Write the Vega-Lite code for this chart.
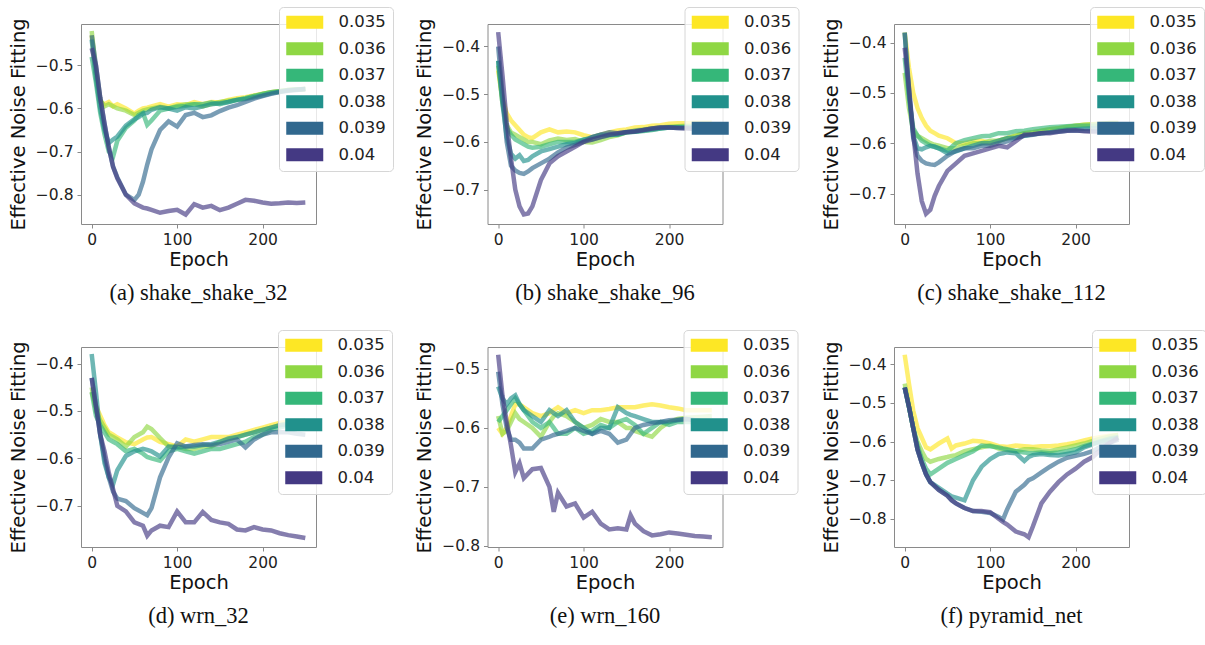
{
"$schema": "https://vega.github.io/schema/vega-lite/v6.json",
"padding": {"left": 7, "top": 6, "right": 0, "bottom": 0},
"background": "white",
"data": {"values": [
{"p":"a","e":0,"s35":-0.43,"s36":-0.42,"s37":-0.48,"s38":-0.44,"s39":-0.43,"s40":-0.46},
{"p":"a","e":5,"s35":-0.52,"s36":-0.51,"s37":-0.54,"s38":-0.53,"s39":-0.50,"s40":-0.50},
{"p":"a","e":10,"s35":-0.585,"s36":-0.58,"s37":-0.61,"s38":-0.60,"s39":-0.575,"s40":-0.575},
{"p":"a","e":15,"s35":-0.59,"s36":-0.595,"s37":-0.66,"s38":-0.65,"s39":-0.635,"s40":-0.635},
{"p":"a","e":20,"s35":-0.585,"s36":-0.59,"s37":-0.70,"s38":-0.68,"s39":-0.69,"s40":-0.69},
{"p":"a","e":25,"s35":-0.595,"s36":-0.595,"s37":-0.712,"s38":-0.672,"s39":-0.735,"s40":-0.735},
{"p":"a","e":30,"s35":-0.59,"s36":-0.60,"s37":-0.675,"s38":-0.665,"s39":-0.76,"s40":-0.762},
{"p":"a","e":40,"s35":-0.60,"s36":-0.605,"s37":-0.645,"s38":-0.64,"s39":-0.80,"s40":-0.80},
{"p":"a","e":50,"s35":-0.612,"s36":-0.615,"s37":-0.628,"s38":-0.625,"s39":-0.812,"s40":-0.82},
{"p":"a","e":55,"s35":-0.605,"s36":-0.61,"s37":-0.615,"s38":-0.62,"s39":-0.80,"s40":-0.825},
{"p":"a","e":60,"s35":-0.60,"s36":-0.605,"s37":-0.61,"s38":-0.612,"s39":-0.77,"s40":-0.83},
{"p":"a","e":65,"s35":-0.598,"s36":-0.602,"s37":-0.638,"s38":-0.61,"s39":-0.73,"s40":-0.832},
{"p":"a","e":70,"s35":-0.595,"s36":-0.60,"s37":-0.628,"s38":-0.603,"s39":-0.695,"s40":-0.835},
{"p":"a","e":80,"s35":-0.59,"s36":-0.596,"s37":-0.605,"s38":-0.597,"s39":-0.65,"s40":-0.842},
{"p":"a","e":90,"s35":-0.596,"s36":-0.60,"s37":-0.60,"s38":-0.60,"s39":-0.63,"s40":-0.838},
{"p":"a","e":100,"s35":-0.59,"s36":-0.594,"s37":-0.596,"s38":-0.605,"s39":-0.642,"s40":-0.835},
{"p":"a","e":110,"s35":-0.592,"s36":-0.59,"s37":-0.594,"s38":-0.597,"s39":-0.615,"s40":-0.846},
{"p":"a","e":120,"s35":-0.585,"s36":-0.59,"s37":-0.59,"s38":-0.60,"s39":-0.61,"s40":-0.822},
{"p":"a","e":130,"s35":-0.59,"s36":-0.595,"s37":-0.59,"s38":-0.595,"s39":-0.62,"s40":-0.83},
{"p":"a","e":140,"s35":-0.585,"s36":-0.59,"s37":-0.586,"s38":-0.59,"s39":-0.616,"s40":-0.826},
{"p":"a","e":150,"s35":-0.586,"s36":-0.585,"s37":-0.59,"s38":-0.588,"s39":-0.606,"s40":-0.836},
{"p":"a","e":160,"s35":-0.58,"s36":-0.582,"s37":-0.585,"s38":-0.585,"s39":-0.598,"s40":-0.83},
{"p":"a","e":170,"s35":-0.576,"s36":-0.58,"s37":-0.58,"s38":-0.58,"s39":-0.592,"s40":-0.821},
{"p":"a","e":180,"s35":-0.574,"s36":-0.576,"s37":-0.576,"s38":-0.578,"s39":-0.585,"s40":-0.812},
{"p":"a","e":190,"s35":-0.57,"s36":-0.571,"s37":-0.571,"s38":-0.574,"s39":-0.577,"s40":-0.814},
{"p":"a","e":200,"s35":-0.566,"s36":-0.566,"s37":-0.566,"s38":-0.57,"s39":-0.571,"s40":-0.818},
{"p":"a","e":210,"s35":-0.562,"s36":-0.562,"s37":-0.562,"s38":-0.565,"s39":-0.566,"s40":-0.821},
{"p":"a","e":220,"s35":-0.56,"s36":-0.56,"s37":-0.56,"s38":-0.561,"s39":-0.562,"s40":-0.82},
{"p":"a","e":230,"s35":-0.557,"s36":-0.557,"s37":-0.557,"s38":-0.558,"s39":-0.559,"s40":-0.818},
{"p":"a","e":240,"s35":-0.556,"s36":-0.556,"s37":-0.556,"s38":-0.556,"s39":-0.557,"s40":-0.819},
{"p":"a","e":250,"s35":-0.555,"s36":-0.555,"s37":-0.555,"s38":-0.555,"s39":-0.555,"s40":-0.818},

{"p":"b","e":0,"s35":-0.45,"s36":-0.44,"s37":-0.43,"s38":-0.43,"s39":-0.40,"s40":-0.37},
{"p":"b","e":5,"s35":-0.51,"s36":-0.52,"s37":-0.51,"s38":-0.52,"s39":-0.50,"s40":-0.46},
{"p":"b","e":10,"s35":-0.54,"s36":-0.565,"s37":-0.57,"s38":-0.59,"s39":-0.60,"s40":-0.56},
{"p":"b","e":15,"s35":-0.555,"s36":-0.58,"s37":-0.585,"s38":-0.625,"s39":-0.65,"s40":-0.635},
{"p":"b","e":20,"s35":-0.565,"s36":-0.585,"s37":-0.595,"s38":-0.635,"s39":-0.66,"s40":-0.70},
{"p":"b","e":25,"s35":-0.575,"s36":-0.59,"s37":-0.60,"s38":-0.628,"s39":-0.665,"s40":-0.735},
{"p":"b","e":30,"s35":-0.585,"s36":-0.595,"s37":-0.605,"s38":-0.64,"s39":-0.667,"s40":-0.752},
{"p":"b","e":35,"s35":-0.59,"s36":-0.60,"s37":-0.61,"s38":-0.638,"s39":-0.662,"s40":-0.75},
{"p":"b","e":40,"s35":-0.592,"s36":-0.60,"s37":-0.612,"s38":-0.63,"s39":-0.655,"s40":-0.735},
{"p":"b","e":50,"s35":-0.58,"s36":-0.605,"s37":-0.61,"s38":-0.62,"s39":-0.645,"s40":-0.68},
{"p":"b","e":60,"s35":-0.574,"s36":-0.597,"s37":-0.605,"s38":-0.615,"s39":-0.635,"s40":-0.645},
{"p":"b","e":70,"s35":-0.58,"s36":-0.593,"s37":-0.60,"s38":-0.61,"s39":-0.622,"s40":-0.63},
{"p":"b","e":80,"s35":-0.578,"s36":-0.596,"s37":-0.60,"s38":-0.605,"s39":-0.612,"s40":-0.62},
{"p":"b","e":90,"s35":-0.58,"s36":-0.594,"s37":-0.60,"s38":-0.602,"s39":-0.606,"s40":-0.61},
{"p":"b","e":100,"s35":-0.586,"s36":-0.60,"s37":-0.595,"s38":-0.596,"s39":-0.60,"s40":-0.60},
{"p":"b","e":110,"s35":-0.59,"s36":-0.601,"s37":-0.595,"s38":-0.59,"s39":-0.59,"s40":-0.595},
{"p":"b","e":120,"s35":-0.585,"s36":-0.596,"s37":-0.59,"s38":-0.585,"s39":-0.585,"s40":-0.59},
{"p":"b","e":130,"s35":-0.58,"s36":-0.59,"s37":-0.586,"s38":-0.585,"s39":-0.58,"s40":-0.585},
{"p":"b","e":140,"s35":-0.576,"s36":-0.586,"s37":-0.584,"s38":-0.585,"s39":-0.582,"s40":-0.582},
{"p":"b","e":150,"s35":-0.574,"s36":-0.58,"s37":-0.58,"s38":-0.58,"s39":-0.579,"s40":-0.58},
{"p":"b","e":160,"s35":-0.57,"s36":-0.576,"s37":-0.579,"s38":-0.579,"s39":-0.577,"s40":-0.578},
{"p":"b","e":170,"s35":-0.569,"s36":-0.574,"s37":-0.577,"s38":-0.576,"s39":-0.575,"s40":-0.575},
{"p":"b","e":180,"s35":-0.566,"s36":-0.572,"s37":-0.575,"s38":-0.574,"s39":-0.572,"s40":-0.572},
{"p":"b","e":190,"s35":-0.565,"s36":-0.57,"s37":-0.572,"s38":-0.572,"s39":-0.57,"s40":-0.57},
{"p":"b","e":200,"s35":-0.562,"s36":-0.568,"s37":-0.57,"s38":-0.57,"s39":-0.57,"s40":-0.57},
{"p":"b","e":210,"s35":-0.561,"s36":-0.567,"s37":-0.569,"s38":-0.57,"s39":-0.571,"s40":-0.571},
{"p":"b","e":220,"s35":-0.561,"s36":-0.566,"s37":-0.568,"s38":-0.57,"s39":-0.571,"s40":-0.572},
{"p":"b","e":230,"s35":-0.56,"s36":-0.566,"s37":-0.568,"s38":-0.57,"s39":-0.572,"s40":-0.573},
{"p":"b","e":240,"s35":-0.56,"s36":-0.565,"s37":-0.568,"s38":-0.57,"s39":-0.572,"s40":-0.572},
{"p":"b","e":250,"s35":-0.56,"s36":-0.565,"s37":-0.568,"s38":-0.57,"s39":-0.572,"s40":-0.572},

{"p":"c","e":0,"s35":-0.38,"s36":-0.46,"s37":-0.43,"s38":-0.38,"s39":-0.38,"s40":-0.41},
{"p":"c","e":5,"s35":-0.45,"s36":-0.53,"s37":-0.51,"s38":-0.50,"s39":-0.49,"s40":-0.49},
{"p":"c","e":10,"s35":-0.50,"s36":-0.575,"s37":-0.57,"s38":-0.585,"s39":-0.59,"s40":-0.58},
{"p":"c","e":15,"s35":-0.53,"s36":-0.585,"s37":-0.585,"s38":-0.61,"s39":-0.625,"s40":-0.66},
{"p":"c","e":20,"s35":-0.55,"s36":-0.59,"s37":-0.595,"s38":-0.612,"s39":-0.635,"s40":-0.715},
{"p":"c","e":25,"s35":-0.565,"s36":-0.595,"s37":-0.60,"s38":-0.608,"s39":-0.64,"s40":-0.74},
{"p":"c","e":30,"s35":-0.575,"s36":-0.60,"s37":-0.605,"s38":-0.605,"s39":-0.642,"s40":-0.732},
{"p":"c","e":35,"s35":-0.58,"s36":-0.603,"s37":-0.607,"s38":-0.607,"s39":-0.643,"s40":-0.705},
{"p":"c","e":40,"s35":-0.585,"s36":-0.605,"s37":-0.61,"s38":-0.61,"s39":-0.638,"s40":-0.685},
{"p":"c","e":50,"s35":-0.59,"s36":-0.61,"s37":-0.615,"s38":-0.62,"s39":-0.625,"s40":-0.655},
{"p":"c","e":60,"s35":-0.60,"s36":-0.61,"s37":-0.60,"s38":-0.616,"s39":-0.615,"s40":-0.64},
{"p":"c","e":70,"s35":-0.60,"s36":-0.605,"s37":-0.594,"s38":-0.61,"s39":-0.61,"s40":-0.625},
{"p":"c","e":80,"s35":-0.596,"s36":-0.60,"s37":-0.59,"s38":-0.605,"s39":-0.61,"s40":-0.62},
{"p":"c","e":90,"s35":-0.595,"s36":-0.60,"s37":-0.586,"s38":-0.60,"s39":-0.605,"s40":-0.615},
{"p":"c","e":100,"s35":-0.60,"s36":-0.595,"s37":-0.585,"s38":-0.60,"s39":-0.605,"s40":-0.61},
{"p":"c","e":110,"s35":-0.595,"s36":-0.595,"s37":-0.58,"s38":-0.595,"s39":-0.60,"s40":-0.605},
{"p":"c","e":120,"s35":-0.59,"s36":-0.59,"s37":-0.58,"s38":-0.59,"s39":-0.596,"s40":-0.608},
{"p":"c","e":130,"s35":-0.585,"s36":-0.585,"s37":-0.576,"s38":-0.589,"s39":-0.59,"s40":-0.596},
{"p":"c","e":140,"s35":-0.58,"s36":-0.58,"s37":-0.575,"s38":-0.585,"s39":-0.585,"s40":-0.583},
{"p":"c","e":150,"s35":-0.578,"s36":-0.578,"s37":-0.572,"s38":-0.582,"s39":-0.583,"s40":-0.582},
{"p":"c","e":160,"s35":-0.575,"s36":-0.575,"s37":-0.57,"s38":-0.58,"s39":-0.58,"s40":-0.58},
{"p":"c","e":170,"s35":-0.572,"s36":-0.572,"s37":-0.568,"s38":-0.578,"s39":-0.578,"s40":-0.58},
{"p":"c","e":180,"s35":-0.57,"s36":-0.57,"s37":-0.567,"s38":-0.575,"s39":-0.577,"s40":-0.577},
{"p":"c","e":190,"s35":-0.568,"s36":-0.567,"s37":-0.566,"s38":-0.573,"s39":-0.575,"s40":-0.575},
{"p":"c","e":200,"s35":-0.565,"s36":-0.565,"s37":-0.565,"s38":-0.572,"s39":-0.575,"s40":-0.574},
{"p":"c","e":210,"s35":-0.563,"s36":-0.563,"s37":-0.565,"s38":-0.571,"s39":-0.575,"s40":-0.576},
{"p":"c","e":220,"s35":-0.562,"s36":-0.562,"s37":-0.565,"s38":-0.57,"s39":-0.575,"s40":-0.577},
{"p":"c","e":230,"s35":-0.561,"s36":-0.561,"s37":-0.565,"s38":-0.57,"s39":-0.575,"s40":-0.578},
{"p":"c","e":240,"s35":-0.56,"s36":-0.56,"s37":-0.565,"s38":-0.57,"s39":-0.575,"s40":-0.578},
{"p":"c","e":250,"s35":-0.56,"s36":-0.56,"s37":-0.565,"s38":-0.57,"s39":-0.575,"s40":-0.578},

{"p":"d","e":0,"s35":-0.46,"s36":-0.45,"s37":-0.46,"s38":-0.38,"s39":-0.43,"s40":-0.43},
{"p":"d","e":5,"s35":-0.49,"s36":-0.50,"s37":-0.51,"s38":-0.46,"s39":-0.49,"s40":-0.49},
{"p":"d","e":10,"s35":-0.51,"s36":-0.52,"s37":-0.53,"s38":-0.55,"s39":-0.55,"s40":-0.55},
{"p":"d","e":15,"s35":-0.53,"s36":-0.535,"s37":-0.545,"s38":-0.61,"s39":-0.60,"s40":-0.585},
{"p":"d","e":20,"s35":-0.545,"s36":-0.55,"s37":-0.56,"s38":-0.64,"s39":-0.64,"s40":-0.63},
{"p":"d","e":25,"s35":-0.55,"s36":-0.555,"s37":-0.565,"s38":-0.655,"s39":-0.67,"s40":-0.665},
{"p":"d","e":30,"s35":-0.556,"s36":-0.56,"s37":-0.57,"s38":-0.625,"s39":-0.685,"s40":-0.70},
{"p":"d","e":40,"s35":-0.566,"s36":-0.575,"s37":-0.585,"s38":-0.595,"s39":-0.69,"s40":-0.712},
{"p":"d","e":50,"s35":-0.57,"s36":-0.555,"s37":-0.58,"s38":-0.585,"s39":-0.705,"s40":-0.735},
{"p":"d","e":60,"s35":-0.56,"s36":-0.545,"s37":-0.59,"s38":-0.58,"s39":-0.715,"s40":-0.742},
{"p":"d","e":65,"s35":-0.556,"s36":-0.533,"s37":-0.597,"s38":-0.582,"s39":-0.72,"s40":-0.763},
{"p":"d","e":70,"s35":-0.555,"s36":-0.538,"s37":-0.60,"s38":-0.585,"s39":-0.705,"s40":-0.752},
{"p":"d","e":80,"s35":-0.565,"s36":-0.557,"s37":-0.605,"s38":-0.596,"s39":-0.64,"s40":-0.742},
{"p":"d","e":90,"s35":-0.57,"s36":-0.575,"s37":-0.585,"s38":-0.575,"s39":-0.598,"s40":-0.745},
{"p":"d","e":100,"s35":-0.575,"s36":-0.575,"s37":-0.58,"s38":-0.577,"s39":-0.568,"s40":-0.712},
{"p":"d","e":110,"s35":-0.56,"s36":-0.58,"s37":-0.585,"s38":-0.575,"s39":-0.575,"s40":-0.735},
{"p":"d","e":120,"s35":-0.565,"s36":-0.58,"s37":-0.59,"s38":-0.575,"s39":-0.572,"s40":-0.735},
{"p":"d","e":130,"s35":-0.56,"s36":-0.575,"s37":-0.585,"s38":-0.572,"s39":-0.57,"s40":-0.713},
{"p":"d","e":140,"s35":-0.555,"s36":-0.575,"s37":-0.58,"s38":-0.57,"s39":-0.572,"s40":-0.73},
{"p":"d","e":150,"s35":-0.555,"s36":-0.565,"s37":-0.58,"s38":-0.565,"s39":-0.57,"s40":-0.735},
{"p":"d","e":160,"s35":-0.555,"s36":-0.56,"s37":-0.575,"s38":-0.558,"s39":-0.565,"s40":-0.738},
{"p":"d","e":170,"s35":-0.55,"s36":-0.555,"s37":-0.57,"s38":-0.555,"s39":-0.56,"s40":-0.75},
{"p":"d","e":180,"s35":-0.545,"s36":-0.55,"s37":-0.565,"s38":-0.55,"s39":-0.577,"s40":-0.752},
{"p":"d","e":190,"s35":-0.54,"s36":-0.545,"s37":-0.555,"s38":-0.545,"s39":-0.56,"s40":-0.745},
{"p":"d","e":200,"s35":-0.535,"s36":-0.54,"s37":-0.55,"s38":-0.54,"s39":-0.55,"s40":-0.75},
{"p":"d","e":210,"s35":-0.53,"s36":-0.535,"s37":-0.54,"s38":-0.535,"s39":-0.545,"s40":-0.752},
{"p":"d","e":220,"s35":-0.525,"s36":-0.53,"s37":-0.535,"s38":-0.53,"s39":-0.545,"s40":-0.758},
{"p":"d","e":230,"s35":-0.522,"s36":-0.525,"s37":-0.53,"s38":-0.528,"s39":-0.545,"s40":-0.762},
{"p":"d","e":240,"s35":-0.52,"s36":-0.522,"s37":-0.525,"s38":-0.525,"s39":-0.548,"s40":-0.765},
{"p":"d","e":250,"s35":-0.52,"s36":-0.52,"s37":-0.52,"s38":-0.525,"s39":-0.55,"s40":-0.768},

{"p":"e","e":0,"s35":-0.60,"s36":-0.58,"s37":-0.59,"s38":-0.53,"s39":-0.505,"s40":-0.476},
{"p":"e","e":5,"s35":-0.61,"s36":-0.61,"s37":-0.58,"s38":-0.55,"s39":-0.56,"s40":-0.545},
{"p":"e","e":10,"s35":-0.60,"s36":-0.605,"s37":-0.57,"s38":-0.56,"s39":-0.60,"s40":-0.59},
{"p":"e","e":15,"s35":-0.58,"s36":-0.59,"s37":-0.56,"s38":-0.55,"s39":-0.62,"s40":-0.63},
{"p":"e","e":20,"s35":-0.56,"s36":-0.575,"s37":-0.55,"s38":-0.545,"s39":-0.62,"s40":-0.675},
{"p":"e","e":25,"s35":-0.56,"s36":-0.585,"s37":-0.56,"s38":-0.56,"s39":-0.625,"s40":-0.66},
{"p":"e","e":30,"s35":-0.565,"s36":-0.59,"s37":-0.57,"s38":-0.57,"s39":-0.635,"s40":-0.685},
{"p":"e","e":40,"s35":-0.575,"s36":-0.60,"s37":-0.59,"s38":-0.58,"s39":-0.635,"s40":-0.67},
{"p":"e","e":50,"s35":-0.58,"s36":-0.615,"s37":-0.60,"s38":-0.59,"s39":-0.62,"s40":-0.668},
{"p":"e","e":60,"s35":-0.575,"s36":-0.59,"s37":-0.59,"s38":-0.57,"s39":-0.615,"s40":-0.70},
{"p":"e","e":65,"s35":-0.57,"s36":-0.58,"s37":-0.60,"s38":-0.575,"s39":-0.612,"s40":-0.742},
{"p":"e","e":70,"s35":-0.565,"s36":-0.575,"s37":-0.61,"s38":-0.58,"s39":-0.61,"s40":-0.71},
{"p":"e","e":80,"s35":-0.575,"s36":-0.58,"s37":-0.61,"s38":-0.57,"s39":-0.605,"s40":-0.733},
{"p":"e","e":90,"s35":-0.57,"s36":-0.59,"s37":-0.60,"s38":-0.59,"s39":-0.60,"s40":-0.728},
{"p":"e","e":100,"s35":-0.575,"s36":-0.60,"s37":-0.61,"s38":-0.60,"s39":-0.605,"s40":-0.752},
{"p":"e","e":110,"s35":-0.57,"s36":-0.595,"s37":-0.605,"s38":-0.61,"s39":-0.61,"s40":-0.742},
{"p":"e","e":120,"s35":-0.57,"s36":-0.585,"s37":-0.595,"s38":-0.60,"s39":-0.605,"s40":-0.762},
{"p":"e","e":130,"s35":-0.568,"s36":-0.59,"s37":-0.60,"s38":-0.60,"s39":-0.61,"s40":-0.772},
{"p":"e","e":140,"s35":-0.565,"s36":-0.59,"s37":-0.59,"s38":-0.565,"s39":-0.625,"s40":-0.77},
{"p":"e","e":150,"s35":-0.565,"s36":-0.60,"s37":-0.585,"s38":-0.575,"s39":-0.62,"s40":-0.772},
{"p":"e","e":155,"s35":-0.565,"s36":-0.60,"s37":-0.59,"s38":-0.578,"s39":-0.61,"s40":-0.748},
{"p":"e","e":160,"s35":-0.565,"s36":-0.605,"s37":-0.595,"s38":-0.58,"s39":-0.60,"s40":-0.762},
{"p":"e","e":170,"s35":-0.562,"s36":-0.61,"s37":-0.61,"s38":-0.585,"s39":-0.595,"s40":-0.775},
{"p":"e","e":180,"s35":-0.56,"s36":-0.615,"s37":-0.60,"s38":-0.59,"s39":-0.592,"s40":-0.782},
{"p":"e","e":190,"s35":-0.562,"s36":-0.60,"s37":-0.59,"s38":-0.59,"s39":-0.59,"s40":-0.78},
{"p":"e","e":200,"s35":-0.565,"s36":-0.59,"s37":-0.595,"s38":-0.59,"s39":-0.587,"s40":-0.777},
{"p":"e","e":210,"s35":-0.567,"s36":-0.585,"s37":-0.59,"s38":-0.587,"s39":-0.586,"s40":-0.779},
{"p":"e","e":220,"s35":-0.57,"s36":-0.583,"s37":-0.59,"s38":-0.585,"s39":-0.585,"s40":-0.781},
{"p":"e","e":230,"s35":-0.57,"s36":-0.582,"s37":-0.59,"s38":-0.587,"s39":-0.587,"s40":-0.783},
{"p":"e","e":240,"s35":-0.57,"s36":-0.581,"s37":-0.59,"s38":-0.589,"s39":-0.589,"s40":-0.784},
{"p":"e","e":250,"s35":-0.57,"s36":-0.58,"s37":-0.59,"s38":-0.59,"s39":-0.59,"s40":-0.785},

{"p":"f","e":0,"s35":-0.375,"s36":-0.45,"s37":-0.46,"s38":-0.46,"s39":-0.46,"s40":-0.46},
{"p":"f","e":5,"s35":-0.45,"s36":-0.51,"s37":-0.51,"s38":-0.51,"s39":-0.51,"s40":-0.51},
{"p":"f","e":10,"s35":-0.52,"s36":-0.565,"s37":-0.565,"s38":-0.565,"s39":-0.565,"s40":-0.565},
{"p":"f","e":15,"s35":-0.565,"s36":-0.60,"s37":-0.61,"s38":-0.62,"s39":-0.62,"s40":-0.62},
{"p":"f","e":20,"s35":-0.59,"s36":-0.625,"s37":-0.645,"s38":-0.655,"s39":-0.655,"s40":-0.655},
{"p":"f","e":25,"s35":-0.615,"s36":-0.645,"s37":-0.67,"s38":-0.685,"s39":-0.685,"s40":-0.685},
{"p":"f","e":30,"s35":-0.62,"s36":-0.652,"s37":-0.685,"s38":-0.705,"s39":-0.705,"s40":-0.705},
{"p":"f","e":40,"s35":-0.605,"s36":-0.645,"s37":-0.67,"s38":-0.72,"s39":-0.725,"s40":-0.725},
{"p":"f","e":50,"s35":-0.592,"s36":-0.64,"s37":-0.655,"s38":-0.735,"s39":-0.74,"s40":-0.74},
{"p":"f","e":55,"s35":-0.618,"s36":-0.637,"s37":-0.65,"s38":-0.742,"s39":-0.752,"s40":-0.752},
{"p":"f","e":60,"s35":-0.61,"s36":-0.635,"s37":-0.645,"s38":-0.745,"s39":-0.76,"s40":-0.76},
{"p":"f","e":70,"s35":-0.605,"s36":-0.625,"s37":-0.635,"s38":-0.752,"s39":-0.772,"s40":-0.772},
{"p":"f","e":80,"s35":-0.598,"s36":-0.62,"s37":-0.625,"s38":-0.70,"s39":-0.78,"s40":-0.78},
{"p":"f","e":90,"s35":-0.60,"s36":-0.615,"s37":-0.61,"s38":-0.665,"s39":-0.782,"s40":-0.78},
{"p":"f","e":100,"s35":-0.605,"s36":-0.61,"s37":-0.612,"s38":-0.645,"s39":-0.785,"s40":-0.783},
{"p":"f","e":110,"s35":-0.612,"s36":-0.618,"s37":-0.615,"s38":-0.632,"s39":-0.795,"s40":-0.80},
{"p":"f","e":115,"s35":-0.613,"s36":-0.62,"s37":-0.618,"s38":-0.63,"s39":-0.802,"s40":-0.808},
{"p":"f","e":120,"s35":-0.614,"s36":-0.622,"s37":-0.62,"s38":-0.628,"s39":-0.775,"s40":-0.815},
{"p":"f","e":130,"s35":-0.61,"s36":-0.625,"s37":-0.625,"s38":-0.63,"s39":-0.73,"s40":-0.833},
{"p":"f","e":140,"s35":-0.612,"s36":-0.62,"s37":-0.628,"s38":-0.65,"s39":-0.712,"s40":-0.84},
{"p":"f","e":145,"s35":-0.613,"s36":-0.62,"s37":-0.63,"s38":-0.64,"s39":-0.70,"s40":-0.848},
{"p":"f","e":150,"s35":-0.614,"s36":-0.62,"s37":-0.63,"s38":-0.635,"s39":-0.695,"s40":-0.82},
{"p":"f","e":160,"s35":-0.612,"s36":-0.623,"s37":-0.628,"s38":-0.632,"s39":-0.68,"s40":-0.76},
{"p":"f","e":170,"s35":-0.612,"s36":-0.625,"s37":-0.63,"s38":-0.635,"s39":-0.665,"s40":-0.73},
{"p":"f","e":180,"s35":-0.61,"s36":-0.62,"s37":-0.628,"s38":-0.636,"s39":-0.652,"s40":-0.705},
{"p":"f","e":190,"s35":-0.607,"s36":-0.615,"s37":-0.625,"s38":-0.632,"s39":-0.642,"s40":-0.685},
{"p":"f","e":200,"s35":-0.603,"s36":-0.61,"s37":-0.62,"s38":-0.628,"s39":-0.637,"s40":-0.67},
{"p":"f","e":210,"s35":-0.597,"s36":-0.605,"s37":-0.612,"s38":-0.615,"s39":-0.632,"s40":-0.652},
{"p":"f","e":220,"s35":-0.592,"s36":-0.598,"s37":-0.605,"s38":-0.607,"s39":-0.625,"s40":-0.64},
{"p":"f","e":230,"s35":-0.588,"s36":-0.592,"s37":-0.598,"s38":-0.60,"s39":-0.612,"s40":-0.62},
{"p":"f","e":240,"s35":-0.585,"s36":-0.587,"s37":-0.592,"s38":-0.595,"s39":-0.603,"s40":-0.603},
{"p":"f","e":250,"s35":-0.583,"s36":-0.583,"s37":-0.588,"s38":-0.59,"s39":-0.595,"s40":-0.59}
]},
"columns": 3,
"bounds": "flush",
"spacing": {"row": 123, "column": 171.5},
"resolve": {"scale": {"x": "independent", "y": "independent", "color": "independent"}, "legend": {"color": "independent"}},
"concat": [
{"width": 235, "height": 200,
 "title": {"text": "(a) shake_shake_32"},
 "transform": [{"filter": "datum.p == 'a'"}, {"fold": ["s35","s36","s37","s38","s39","s40"], "as": ["lr","v"]}],
 "mark": {"type": "line", "strokeWidth": 4.5, "opacity": 0.65, "clip": true},
 "encoding": {
  "x": {"field": "e", "type": "quantitative", "scale": {"domain": [-12.5, 262.5], "nice": false, "zero": false}, "axis": {"values": [0, 100, 200], "title": "Epoch"}},
  "y": {"field": "v", "type": "quantitative", "scale": {"domain": [-0.868, -0.404], "nice": false, "zero": false}, "axis": {"values": [-0.5, -0.6, -0.7, -0.8], "format": ".1f", "title": "Effective Noise Fitting"}},
  "color": {"field": "lr", "type": "nominal", "sort": ["s35","s36","s37","s38","s39","s40"], "scale": {"domain": ["s35","s36","s37","s38","s39","s40"], "range": ["#fde725","#8fd744","#35b779","#21918c","#31688e","#443983"]},
   "legend": {"orient": "none", "legendX": 198, "legendY": -17, "title": null, "labelExpr": "datum.label == 's40' ? '0.04' : '0.0' + slice(datum.label, 1)", "encode": {"symbols": {"update": {"opacity": {"value": 1}, "strokeCap": {"value": "butt"}, "strokeJoin": {"value": "bevel"}}}}}}
 }},
{"width": 235, "height": 200,
 "title": {"text": "(b) shake_shake_96"},
 "transform": [{"filter": "datum.p == 'b'"}, {"fold": ["s35","s36","s37","s38","s39","s40"], "as": ["lr","v"]}],
 "mark": {"type": "line", "strokeWidth": 4.5, "opacity": 0.65, "clip": true},
 "encoding": {
  "x": {"field": "e", "type": "quantitative", "scale": {"domain": [-12.5, 262.5], "nice": false, "zero": false}, "axis": {"values": [0, 100, 200], "title": "Epoch"}},
  "y": {"field": "v", "type": "quantitative", "scale": {"domain": [-0.772, -0.353], "nice": false, "zero": false}, "axis": {"values": [-0.4, -0.5, -0.6, -0.7], "format": ".1f", "title": "Effective Noise Fitting"}},
  "color": {"field": "lr", "type": "nominal", "sort": ["s35","s36","s37","s38","s39","s40"], "scale": {"domain": ["s35","s36","s37","s38","s39","s40"], "range": ["#fde725","#8fd744","#35b779","#21918c","#31688e","#443983"]},
   "legend": {"orient": "none", "legendX": 197, "legendY": -17, "title": null, "labelExpr": "datum.label == 's40' ? '0.04' : '0.0' + slice(datum.label, 1)", "encode": {"symbols": {"update": {"opacity": {"value": 1}, "strokeCap": {"value": "butt"}, "strokeJoin": {"value": "bevel"}}}}}}
 }},
{"width": 235, "height": 200,
 "title": {"text": "(c) shake_shake_112"},
 "transform": [{"filter": "datum.p == 'c'"}, {"fold": ["s35","s36","s37","s38","s39","s40"], "as": ["lr","v"]}],
 "mark": {"type": "line", "strokeWidth": 4.5, "opacity": 0.65, "clip": true},
 "encoding": {
  "x": {"field": "e", "type": "quantitative", "scale": {"domain": [-12.5, 262.5], "nice": false, "zero": false}, "axis": {"values": [0, 100, 200], "title": "Epoch"}},
  "y": {"field": "v", "type": "quantitative", "scale": {"domain": [-0.7605, -0.363], "nice": false, "zero": false}, "axis": {"values": [-0.4, -0.5, -0.6, -0.7], "format": ".1f", "title": "Effective Noise Fitting"}},
  "color": {"field": "lr", "type": "nominal", "sort": ["s35","s36","s37","s38","s39","s40"], "scale": {"domain": ["s35","s36","s37","s38","s39","s40"], "range": ["#fde725","#8fd744","#35b779","#21918c","#31688e","#443983"]},
   "legend": {"orient": "none", "legendX": 196, "legendY": -17, "title": null, "labelExpr": "datum.label == 's40' ? '0.04' : '0.0' + slice(datum.label, 1)", "encode": {"symbols": {"update": {"opacity": {"value": 1}, "strokeCap": {"value": "butt"}, "strokeJoin": {"value": "bevel"}}}}}}
 }},
{"width": 235, "height": 200,
 "title": {"text": "(d) wrn_32"},
 "transform": [{"filter": "datum.p == 'd'"}, {"fold": ["s35","s36","s37","s38","s39","s40"], "as": ["lr","v"]}],
 "mark": {"type": "line", "strokeWidth": 4.5, "opacity": 0.65, "clip": true},
 "encoding": {
  "x": {"field": "e", "type": "quantitative", "scale": {"domain": [-12.5, 262.5], "nice": false, "zero": false}, "axis": {"values": [0, 100, 200], "title": "Epoch"}},
  "y": {"field": "v", "type": "quantitative", "scale": {"domain": [-0.787, -0.365], "nice": false, "zero": false}, "axis": {"values": [-0.4, -0.5, -0.6, -0.7], "format": ".1f", "title": "Effective Noise Fitting"}},
  "color": {"field": "lr", "type": "nominal", "sort": ["s35","s36","s37","s38","s39","s40"], "scale": {"domain": ["s35","s36","s37","s38","s39","s40"], "range": ["#fde725","#8fd744","#35b779","#21918c","#31688e","#443983"]},
   "legend": {"orient": "none", "legendX": 197, "legendY": -17, "title": null, "labelExpr": "datum.label == 's40' ? '0.04' : '0.0' + slice(datum.label, 1)", "encode": {"symbols": {"update": {"opacity": {"value": 1}, "strokeCap": {"value": "butt"}, "strokeJoin": {"value": "bevel"}}}}}}
 }},
{"width": 235, "height": 200,
 "title": {"text": "(e) wrn_160"},
 "transform": [{"filter": "datum.p == 'e'"}, {"fold": ["s35","s36","s37","s38","s39","s40"], "as": ["lr","v"]}],
 "mark": {"type": "line", "strokeWidth": 4.5, "opacity": 0.65, "clip": true},
 "encoding": {
  "x": {"field": "e", "type": "quantitative", "scale": {"domain": [-12.5, 262.5], "nice": false, "zero": false}, "axis": {"values": [0, 100, 200], "title": "Epoch"}},
  "y": {"field": "v", "type": "quantitative", "scale": {"domain": [-0.8017, -0.463], "nice": false, "zero": false}, "axis": {"values": [-0.5, -0.6, -0.7, -0.8], "format": ".1f", "title": "Effective Noise Fitting"}},
  "color": {"field": "lr", "type": "nominal", "sort": ["s35","s36","s37","s38","s39","s40"], "scale": {"domain": ["s35","s36","s37","s38","s39","s40"], "range": ["#fde725","#8fd744","#35b779","#21918c","#31688e","#443983"]},
   "legend": {"orient": "none", "legendX": 196, "legendY": -17, "title": null, "labelExpr": "datum.label == 's40' ? '0.04' : '0.0' + slice(datum.label, 1)", "encode": {"symbols": {"update": {"opacity": {"value": 1}, "strokeCap": {"value": "butt"}, "strokeJoin": {"value": "bevel"}}}}}}
 }},
{"width": 235, "height": 200,
 "title": {"text": "(f) pyramid_net"},
 "transform": [{"filter": "datum.p == 'f'"}, {"fold": ["s35","s36","s37","s38","s39","s40"], "as": ["lr","v"]}],
 "mark": {"type": "line", "strokeWidth": 4.5, "opacity": 0.65, "clip": true},
 "encoding": {
  "x": {"field": "e", "type": "quantitative", "scale": {"domain": [-12.5, 262.5], "nice": false, "zero": false}, "axis": {"values": [0, 100, 200], "title": "Epoch"}},
  "y": {"field": "v", "type": "quantitative", "scale": {"domain": [-0.873, -0.355], "nice": false, "zero": false}, "axis": {"values": [-0.4, -0.5, -0.6, -0.7, -0.8], "format": ".1f", "title": "Effective Noise Fitting"}},
  "color": {"field": "lr", "type": "nominal", "sort": ["s35","s36","s37","s38","s39","s40"], "scale": {"domain": ["s35","s36","s37","s38","s39","s40"], "range": ["#fde725","#8fd744","#35b779","#21918c","#31688e","#443983"]},
   "legend": {"orient": "none", "legendX": 198, "legendY": -17, "title": null, "labelExpr": "datum.label == 's40' ? '0.04' : '0.0' + slice(datum.label, 1)", "encode": {"symbols": {"update": {"opacity": {"value": 1}, "strokeCap": {"value": "butt"}, "strokeJoin": {"value": "bevel"}}}}}}
 }}
],
"config": {
 "view": {"stroke": "#8a8a8a", "strokeWidth": 1},
 "axis": {"domain": false, "grid": false, "ticks": true, "tickColor": "#8a8a8a", "tickSize": 4, "tickWidth": 1, "labelFont": "DejaVu Sans", "labelFontSize": 15.5, "labelColor": "#222222", "labelPadding": 4, "titleFont": "DejaVu Sans", "titleFontSize": 19.5, "titleFontWeight": "normal", "titleColor": "#111111"},
 "axisY": {"titlePadding": 7},
 "axisX": {"titlePadding": 3},
 "title": {"orient": "bottom", "anchor": "middle", "font": "Liberation Serif", "fontSize": 22.5, "fontWeight": "normal", "color": "#111111", "offset": 13},
 "legend": {"symbolType": "M-1.298,-0.811H4.705M-1.298,-0.405H4.705M-1.298,0H4.705M-1.298,0.405H4.705M-1.298,0.811H4.705", "symbolSize": 152, "symbolStrokeWidth": 3, "symbolOpacity": 1, "labelFont": "DejaVu Sans", "labelFontSize": 16.5, "labelColor": "#222222", "labelOffset": 36, "rowPadding": 9.5, "padding": 7, "fillColor": "rgba(255,255,255,0.8)", "strokeColor": "#d6d6d6", "cornerRadius": 4}
}
}
